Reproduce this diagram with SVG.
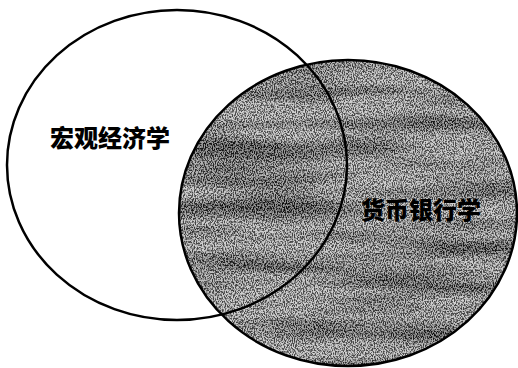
<svg xmlns="http://www.w3.org/2000/svg" width="518" height="368" viewBox="0 0 518 368">
<style>
.outline{fill:none;stroke:#000;stroke-width:2.5}
.lbl{font-family:"Noto Sans CJK SC","Liberation Sans",sans-serif;font-weight:900;font-size:24px;fill:#000}
</style>
<defs>
<filter id="grain" x="0" y="0" width="100%" height="100%" filterUnits="userSpaceOnUse">
<feTurbulence type="fractalNoise" baseFrequency="0.9 0.6" numOctaves="2" seed="3" result="n"/>
<feColorMatrix in="n" type="matrix" values="0 0 0 0 0  0 0 0 0 0  0 0 0 0 0  0 0 0 -4 2.4" result="dots"/>
<feTurbulence type="fractalNoise" baseFrequency="0.006 0.05" numOctaves="2" seed="8" result="band"/>
<feColorMatrix in="band" type="matrix" values="0 0 0 0 0  0 0 0 0 0  0 0 0 0 0  0 0 0 -2.5 1.5" result="bandA"/>
<feComposite in="dots" in2="bandA" operator="arithmetic" k1="0" k2="0.65" k3="0.3" k4="0" result="mix"/>
<feComposite in="mix" in2="SourceGraphic" operator="in"/>
</filter>
</defs>
<rect width="518" height="368" fill="#fff"/>
<g id="money-banking">
<ellipse cx="348" cy="213" rx="169" ry="153" fill="#d0d0d0"/>
<ellipse cx="348" cy="213" rx="169" ry="153" fill="#000" filter="url(#grain)"/>
<ellipse class="outline" cx="348" cy="213" rx="169" ry="153"/>
<text class="lbl" x="421" y="219" text-anchor="middle">货币银行学</text>
</g>
<g id="macroeconomics">
<ellipse class="outline" cx="177" cy="165" rx="170" ry="155"/>
<text class="lbl" x="110" y="147" text-anchor="middle">宏观经济学</text>
</g>
<g id="connectors"/>
</svg>
